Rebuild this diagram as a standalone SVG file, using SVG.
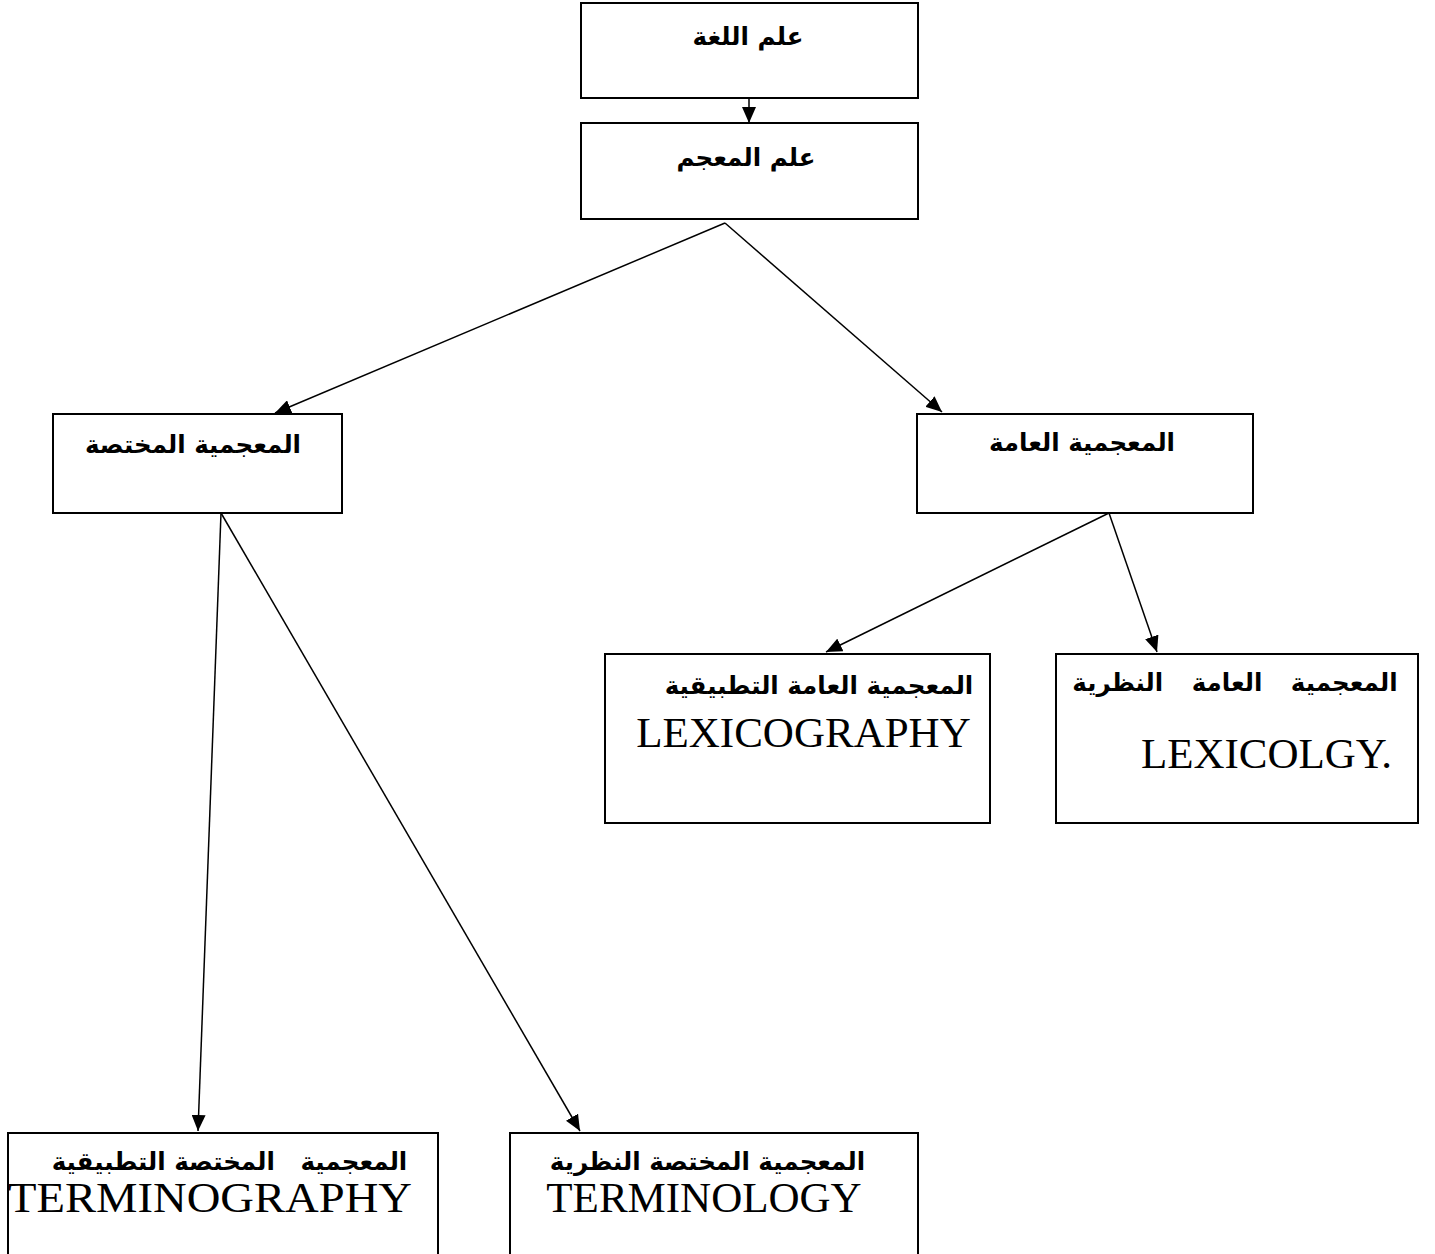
<svg xmlns="http://www.w3.org/2000/svg" width="1435" height="1254" viewBox="0 0 1435 1254">
<style>
.box{fill:#fff;stroke:#000;stroke-width:2}
.ar{font-family:"DejaVu Sans",sans-serif;font-weight:bold;font-size:24.5px;fill:#000;text-anchor:middle}
.en{font-family:"Liberation Serif","Times New Roman",serif;font-size:43px;fill:#000;text-anchor:middle}
.con line{stroke:#000;stroke-width:1.5;fill:none}
</style>
<defs>
<marker id="ah" markerUnits="userSpaceOnUse" markerWidth="16" markerHeight="14" refX="16" refY="7" orient="auto">
<path d="M0,0 L16,7 L0,14 z" fill="#000"/>
</marker>
</defs>
<rect width="1435" height="1254" fill="#fff"/>
<g id="n1"><rect class="box" x="581" y="3" width="337" height="95"/><text class="ar" x="748" y="45">علم اللغة</text></g>
<g id="n2"><rect class="box" x="581" y="123" width="337" height="96"/><text class="ar" x="746" y="166">علم المعجم</text></g>
<g id="n3"><rect class="box" x="53" y="414" width="289" height="99"/><text class="ar" x="193" y="453">المعجمية المختصة</text></g>
<g id="n4"><rect class="box" x="917" y="414" width="336" height="99"/><text class="ar" x="1082" y="451">المعجمية العامة</text></g>
<g id="n5"><rect class="box" x="605" y="654" width="385" height="169"/><text class="ar" x="819" y="694">المعجمية العامة التطبيقية</text><text class="en" x="803.5" y="747">LEXICOGRAPHY</text></g>
<g id="n6"><rect class="box" x="1056" y="654" width="362" height="169"/><text class="ar" x="1235" y="691" word-spacing="20">المعجمية العامة النظرية</text><text class="en" x="1266.5" y="768">LEXICOLGY.</text></g>
<g id="n7"><rect class="box" x="8" y="1133" width="430" height="130"/><text class="ar" x="229.5" y="1170" style="white-space:pre">المعجمية   المختصة التطبيقية</text><text class="en" x="210" y="1212" textLength="404" lengthAdjust="spacingAndGlyphs">TERMINOGRAPHY</text></g>
<g id="n8"><rect class="box" x="510" y="1133" width="408" height="130"/><text class="ar" x="707.5" y="1170">المعجمية المختصة النظرية</text><text class="en" x="704" y="1212">TERMINOLOGY</text></g>
<g id="connectors" class="con">
<line x1="749" y1="98" x2="749" y2="123" marker-end="url(#ah)"/>
<line x1="725" y1="223" x2="275" y2="413" marker-end="url(#ah)"/>
<line x1="725" y1="223" x2="942" y2="412" marker-end="url(#ah)"/>
<line x1="1109" y1="513" x2="826" y2="652" marker-end="url(#ah)"/>
<line x1="1109" y1="513" x2="1157" y2="652" marker-end="url(#ah)"/>
<line x1="221" y1="513" x2="198" y2="1131" marker-end="url(#ah)"/>
<line x1="221" y1="513" x2="580" y2="1131" marker-end="url(#ah)"/>
</g>
</svg>
